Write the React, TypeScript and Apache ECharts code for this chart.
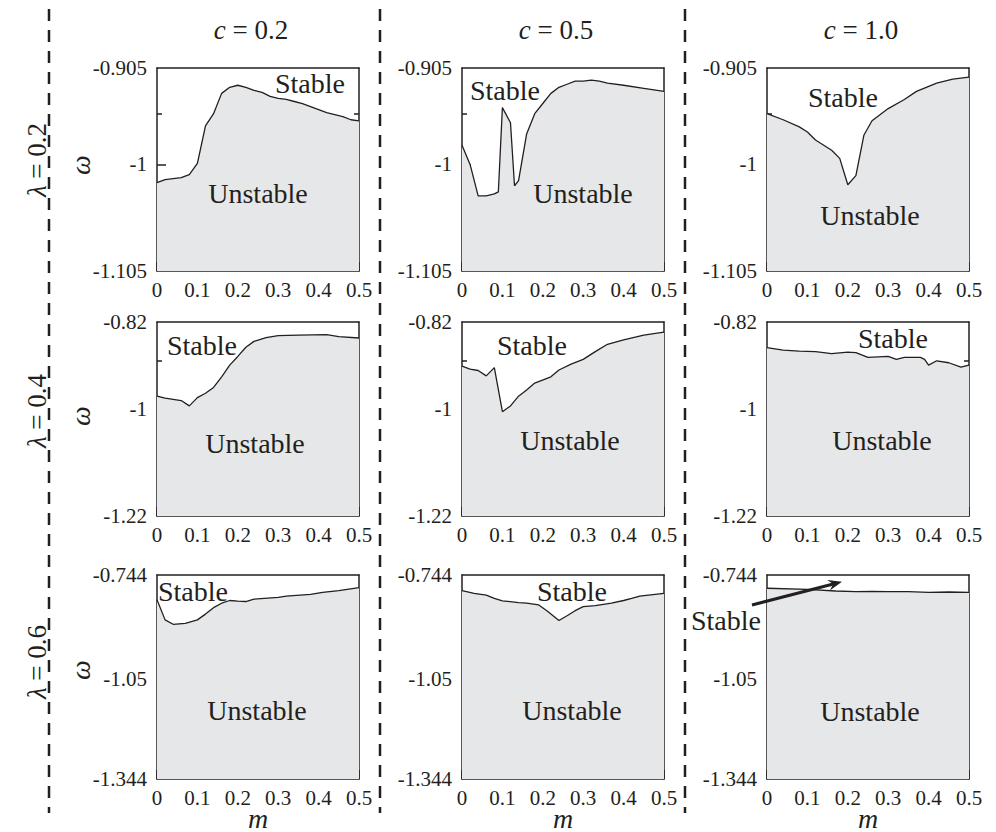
import React, { useEffect, useRef } from "react";
import * as echarts from "echarts";

// ---------- data ----------
const cValues = ["0.2", "0.5", "1.0"];
const lambdaValues = ["0.2", "0.4", "0.6"];
const xTicks = [0, 0.1, 0.2, 0.3, 0.4, 0.5];

// y-axis ranges per λ row
const yMin = [-1.105, -1.22, -1.344];
const yMax = [-0.905, -0.82, -0.744];
const yMajorTick = [-1, -1, -1.05];
const yMinorTicks = [
  [-0.95, -1.05],
  [-0.9, -1.1],
  [-0.9, -1.2],
];

// λ = 0.2
const m_l02_c02 = [0, 0.02, 0.04, 0.06, 0.08, 0.1, 0.12, 0.14, 0.16, 0.18, 0.2, 0.22, 0.24, 0.26, 0.28, 0.3, 0.32, 0.34, 0.36, 0.38, 0.4, 0.42, 0.44, 0.46, 0.48, 0.5];
const w_l02_c02 = [-1.018, -1.015, -1.014, -1.013, -1.01, -0.999, -0.962, -0.95, -0.93, -0.924, -0.922, -0.924, -0.927, -0.929, -0.933, -0.935, -0.936, -0.938, -0.94, -0.943, -0.946, -0.949, -0.951, -0.953, -0.956, -0.957];

const m_l02_c05 = [0, 0.02, 0.04, 0.06, 0.08, 0.09, 0.1, 0.12, 0.13, 0.14, 0.16, 0.18, 0.2, 0.22, 0.24, 0.26, 0.28, 0.3, 0.32, 0.34, 0.36, 0.4, 0.45, 0.5];
const w_l02_c05 = [-0.981, -1.0, -1.031, -1.031, -1.029, -1.027, -0.944, -0.959, -1.021, -1.016, -0.97, -0.95, -0.94, -0.93, -0.924, -0.921, -0.918, -0.918, -0.917, -0.918, -0.92, -0.922, -0.925, -0.928];

const m_l02_c10 = [0, 0.04, 0.08, 0.1, 0.12, 0.16, 0.18, 0.2, 0.22, 0.24, 0.26, 0.3, 0.34, 0.37, 0.42, 0.46, 0.5];
const w_l02_c10 = [-0.95, -0.956, -0.963, -0.968, -0.976, -0.986, -0.994, -1.02, -1.011, -0.971, -0.957, -0.945, -0.936, -0.928, -0.92, -0.916, -0.914];

// λ = 0.4
const m_l04_c02 = [0, 0.02, 0.06, 0.08, 0.1, 0.12, 0.14, 0.16, 0.18, 0.2, 0.22, 0.24, 0.27, 0.3, 0.35, 0.42, 0.45, 0.5];
const w_l04_c02 = [-0.973, -0.977, -0.982, -0.993, -0.976, -0.967, -0.955, -0.933, -0.909, -0.891, -0.872, -0.86, -0.852, -0.848, -0.847, -0.846, -0.85, -0.853];

const m_l04_c05 = [0, 0.02, 0.04, 0.06, 0.08, 0.1, 0.12, 0.14, 0.16, 0.18, 0.22, 0.24, 0.27, 0.3, 0.33, 0.36, 0.4, 0.45, 0.5];
const w_l04_c05 = [-0.911, -0.917, -0.92, -0.931, -0.914, -1.005, -0.993, -0.973, -0.96, -0.946, -0.933, -0.919, -0.907, -0.897, -0.881, -0.866, -0.857, -0.847, -0.841];

const m_l04_c10 = [0, 0.04, 0.08, 0.12, 0.16, 0.2, 0.22, 0.25, 0.3, 0.32, 0.34, 0.38, 0.39, 0.4, 0.42, 0.45, 0.48, 0.5];
const w_l04_c10 = [-0.873, -0.878, -0.88, -0.881, -0.885, -0.882, -0.883, -0.893, -0.891, -0.897, -0.893, -0.893, -0.897, -0.909, -0.9, -0.904, -0.913, -0.909];

// λ = 0.6
const m_l06_c02 = [0, 0.02, 0.04, 0.07, 0.1, 0.12, 0.14, 0.16, 0.18, 0.2, 0.22, 0.24, 0.3, 0.32, 0.38, 0.41, 0.45, 0.5];
const w_l06_c02 = [-0.817, -0.876, -0.889, -0.886, -0.876, -0.859, -0.84, -0.827, -0.819, -0.821, -0.822, -0.815, -0.81, -0.806, -0.801, -0.795, -0.79, -0.781];

const m_l06_c05 = [0, 0.03, 0.06, 0.08, 0.1, 0.14, 0.16, 0.19, 0.21, 0.24, 0.26, 0.28, 0.3, 0.33, 0.37, 0.4, 0.42, 0.44, 0.5];
const w_l06_c05 = [-0.79, -0.798, -0.803, -0.813, -0.82, -0.825, -0.827, -0.832, -0.849, -0.878, -0.864, -0.849, -0.837, -0.834, -0.827, -0.819, -0.813, -0.806, -0.798];

const m_l06_c10 = [0, 0.1, 0.17, 0.22, 0.26, 0.3, 0.35, 0.4, 0.45, 0.5];
const w_l06_c10 = [-0.783, -0.786, -0.791, -0.793, -0.792, -0.793, -0.793, -0.795, -0.794, -0.795];

const panelM = [m_l02_c02, m_l02_c05, m_l02_c10, m_l04_c02, m_l04_c05, m_l04_c10, m_l06_c02, m_l06_c05, m_l06_c10];
const panelW = [w_l02_c02, w_l02_c05, w_l02_c10, w_l04_c02, w_l04_c05, w_l04_c10, w_l06_c02, w_l06_c05, w_l06_c10];

// ---------- layout / style ----------
const FONT = "Liberation Serif, Times New Roman, serif";
const INK = "#231f20";
const FILL = "#e6e7e8";
const colLeft = [157, 462, 767];
const panelWidth = 202;
const rowTop = [68, 322, 575];
const rowHeight = [203, 194, 204];

// annotation centres (pixels): [stableX, stableY, unstableX, unstableY]
const annot = [
  [310, 83, 258, 193],
  [505, 90, 583, 193],
  [843, 97, 870, 215],
  [202, 345, 255, 443],
  [532, 345, 570, 440],
  [893, 338, 882, 440],
  [193, 591, 257, 710],
  [572, 591, 572, 710],
  [726, 620, 870, 711],
];

function txt(text: string, x: number, y: number, size: number, extra: any = {}) {
  return {
    type: "text",
    x,
    y,
    z: 100,
    ...extra,
    style: {
      text,
      fill: INK,
      fontFamily: FONT,
      fontSize: size,
      fontStyle: "normal",
      textAlign: "center",
      textVerticalAlign: "middle",
      ...(extra.style || {}),
    },
  };
}

function buildOption() {
  const grid: any[] = [];
  const xAxis: any[] = [];
  const yAxis: any[] = [];
  const series: any[] = [];
  const graphic: any[] = [];
  const lineStyle = { color: INK, width: 1.5 };

  for (let r = 0; r < 3; r++) {
    for (let c = 0; c < 3; c++) {
      const g = r * 3 + c;
      grid.push({
        left: colLeft[c],
        top: rowTop[r],
        width: panelWidth,
        height: rowHeight[r],
        containLabel: false,
        outerBoundsMode: "none",
      });
      const xBottomIndex = xAxis.length;
      xAxis.push({
        gridIndex: g,
        type: "value",
        position: "bottom",
        min: 0,
        max: 0.5,
        interval: 0.1,
        axisLine: { show: true, lineStyle },
        axisTick: { show: true, inside: true, length: 9, lineStyle },
        minorTick: { show: true, splitNumber: 2, length: 4.5, lineStyle },
        axisLabel: {
          color: INK,
          fontFamily: FONT,
          fontSize: 21,
          margin: 8,
          customValues: xTicks,
          formatter: (v: number) => String(Math.round(v * 10) / 10),
        },
        splitLine: { show: false },
        minorSplitLine: { show: false },
      });
      xAxis.push({
        gridIndex: g,
        type: "value",
        position: "top",
        min: 0,
        max: 0.5,
        axisLine: { show: true, lineStyle },
        axisTick: { show: false },
        axisLabel: { show: false },
        splitLine: { show: false },
      });
      const yLeftIndex = yAxis.length;
      const yCommon = {
        gridIndex: g,
        type: "value",
        min: yMin[r],
        max: yMax[r],
        splitLine: { show: false },
      };
      yAxis.push({
        ...yCommon,
        position: "left",
        axisLine: { show: true, lineStyle },
        axisTick: { show: true, inside: true, length: 9, lineStyle, customValues: [yMajorTick[r]] },
        axisLabel: {
          show: true,
          color: INK,
          fontFamily: FONT,
          fontSize: 21,
          margin: 10,
          customValues: [yMin[r], yMajorTick[r], yMax[r]],
          formatter: (v: number) => String(v),
        },
      });
      yAxis.push({
        ...yCommon,
        position: "left",
        axisLine: { show: false },
        axisTick: { show: true, inside: true, length: 5, lineStyle, customValues: yMinorTicks[r] },
        axisLabel: { show: false, customValues: yMinorTicks[r] },
      });
      yAxis.push({
        ...yCommon,
        position: "right",
        axisLine: { show: true, lineStyle },
        axisTick: { show: true, inside: true, length: 9, lineStyle, customValues: [yMajorTick[r]] },
        axisLabel: { show: false, customValues: [yMajorTick[r]] },
      });
      yAxis.push({
        ...yCommon,
        position: "right",
        axisLine: { show: false },
        axisTick: { show: true, inside: true, length: 5, lineStyle, customValues: yMinorTicks[r] },
        axisLabel: { show: false, customValues: yMinorTicks[r] },
      });

      const ms = panelM[g];
      const ws = panelW[g];
      series.push({
        type: "line",
        xAxisIndex: xBottomIndex,
        yAxisIndex: yLeftIndex,
        data: ms.map((m, i) => [m, ws[i]]),
        showSymbol: false,
        symbol: "none",
        lineStyle: { color: INK, width: 1.3 },
        areaStyle: { color: FILL, opacity: 1, origin: "start" },
        z: 1,
      });

      const a = annot[g];
      graphic.push(txt("Stable", a[0], a[1], 28));
      graphic.push(txt("Unstable", a[2], a[3], 28));
    }
  }

  const richItalic = (size: number) => ({
    i: { fontStyle: "italic", fontFamily: FONT, fontSize: size, fill: INK },
    n: { fontStyle: "normal", fontFamily: FONT, fontSize: size, fill: INK },
  });

  // column titles and m labels
  for (let c = 0; c < 3; c++) {
    graphic.push(
      txt(`{i|c}{n| = ${cValues[c]}}`, colLeft[c] + panelWidth / 2 - 7, 30, 27, {
        style: { rich: richItalic(27) },
      })
    );
    graphic.push(txt("m", colLeft[c] + panelWidth / 2, 818, 28, { style: { fontStyle: "italic" } }));
  }
  // row labels and ω labels
  const lamY = [160, 411, 662];
  const omY = [165, 416, 670];
  for (let r = 0; r < 3; r++) {
    graphic.push(
      txt(`{i|λ}{n| = ${lambdaValues[r]}}`, 37, lamY[r], 27, {
        rotation: Math.PI / 2,
        style: { rich: richItalic(27) },
      })
    );
    graphic.push(txt("ω", 80, omY[r], 28, { rotation: Math.PI / 2, style: { fontStyle: "italic" } }));
  }
  // dashed separators
  [49, 380, 685].forEach((x) => {
    graphic.push({
      type: "line",
      shape: { x1: x, y1: 9, x2: x, y2: 813 },
      style: { stroke: INK, lineWidth: 2.5, lineDash: [12, 9] },
    });
  });
  // arrow pointing at the thin stable band (λ=0.6, c=1.0)
  const tail = [752, 605];
  const tip = [842, 581.7];
  const dx = tip[0] - tail[0];
  const dy = tip[1] - tail[1];
  const len = Math.hypot(dx, dy);
  const ux = dx / len;
  const uy = dy / len;
  const nx = -uy;
  const ny = ux;
  const hl = 14;
  const hw = 5.5;
  graphic.push({
    type: "line",
    shape: { x1: tail[0], y1: tail[1], x2: tip[0] - ux * 8, y2: tip[1] - uy * 8 },
    style: { stroke: INK, lineWidth: 3 },
    z: 101,
  });
  graphic.push({
    type: "polygon",
    shape: {
      points: [
        [tip[0], tip[1]],
        [tip[0] - ux * hl + nx * hw, tip[1] - uy * hl + ny * hw],
        [tip[0] - ux * 9, tip[1] - uy * 9],
        [tip[0] - ux * hl - nx * hw, tip[1] - uy * hl - ny * hw],
      ],
    },
    style: { fill: INK },
    z: 101,
  });

  return {
    animation: false,
    backgroundColor: "#ffffff",
    textStyle: { fontFamily: FONT },
    grid,
    xAxis,
    yAxis,
    series,
    graphic,
  };
}

export default function App() {
  const ref = useRef<HTMLDivElement>(null);
  useEffect(() => {
    document.body.style.margin = "0";
    if (!ref.current) return;
    const chart = echarts.init(ref.current, null, { renderer: "svg" });
    chart.setOption(buildOption() as any);
    return () => chart.dispose();
  }, []);
  return <div ref={ref} style={{ width: 996, height: 832 }} />;
}
